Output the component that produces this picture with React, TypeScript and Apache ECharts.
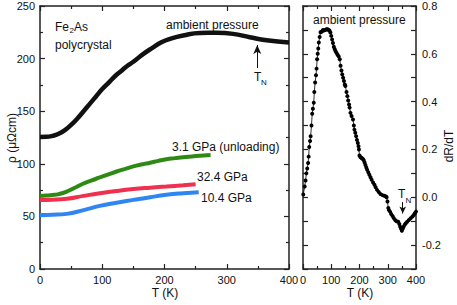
import React, { useEffect, useRef } from "react";
import * as echarts from "echarts";

// Left panel: resistivity vs temperature
const ambientT = [0, 10, 20, 30, 40, 50, 60, 70, 80, 90, 100, 110, 120, 130, 140, 150, 165, 180, 195, 210, 230, 257, 284, 310, 337, 364, 400];
const ambientRho = [125.5, 125.6, 126.5, 128.5, 132, 137, 143, 150, 157, 164, 171, 177, 183, 188, 193, 197, 204, 210, 215.5, 219, 222, 224.4, 224.5, 223.5, 220.3, 217.4, 215.3];

const unloadT = [0, 10, 20, 30, 43, 55, 69, 82, 96, 110, 123, 137, 150, 165, 177, 190, 203, 217, 230, 244, 257, 274];
const unloadRho = [69.5, 69.8, 70.3, 71.2, 73.6, 77, 81, 84, 87, 90, 92.7, 95.2, 97.5, 99.5, 101, 102.8, 104.4, 105.4, 106.3, 107, 107.6, 108.3];

const p324T = [0, 20, 43, 70, 96, 123, 150, 177, 203, 230, 250];
const p324Rho = [65.7, 65.9, 66.7, 69.5, 72, 74.2, 76, 77.3, 78.4, 79.6, 80.6];

const p104T = [0, 20, 43, 70, 96, 123, 150, 177, 203, 230, 255];
const p104Rho = [51.4, 51.6, 52.4, 56, 60, 63, 65.7, 68.3, 70.5, 72, 73];

// Right panel: dR/dT vs temperature
const dT = [1, 6, 9, 12, 15, 18, 20, 22, 25, 27, 30, 32.6, 35, 38, 40, 43, 46, 48, 50, 52, 54, 56, 59, 62, 65, 68, 71, 75, 79, 83, 87, 91, 94, 97, 100, 103, 106, 109, 112, 115, 118, 122, 126, 130, 133, 136, 139, 142, 145, 148, 150, 154, 157, 160, 163, 165, 168, 172, 177, 180, 182, 185, 188, 191, 194, 196.5, 198, 200, 203, 206, 209, 212, 215, 218, 221, 224, 227, 231, 235, 239, 243, 248, 253, 257, 262, 268, 274, 281, 288, 294, 296, 299, 302, 304, 308, 312, 317, 321, 326, 331, 337, 341, 344, 347, 350, 353, 356, 360, 364, 369, 375, 381, 387, 392, 396, 400];
const dV = [0.012, 0.045, 0.07, 0.1, 0.12, 0.143, 0.17, 0.21, 0.235, 0.255, 0.3, 0.349, 0.37, 0.395, 0.44, 0.48, 0.51, 0.538, 0.577, 0.6, 0.622, 0.647, 0.67, 0.69, 0.692, 0.694, 0.7, 0.698, 0.7, 0.703, 0.703, 0.7, 0.697, 0.689, 0.675, 0.66, 0.645, 0.63, 0.62, 0.612, 0.605, 0.597, 0.59, 0.577, 0.55, 0.53, 0.514, 0.5, 0.486, 0.472, 0.465, 0.44, 0.423, 0.405, 0.388, 0.375, 0.353, 0.34, 0.325, 0.3, 0.283, 0.27, 0.255, 0.24, 0.227, 0.213, 0.2, 0.175, 0.168, 0.165, 0.163, 0.16, 0.155, 0.145, 0.135, 0.125, 0.115, 0.105, 0.094, 0.084, 0.073, 0.062, 0.052, 0.042, 0.031, 0.022, 0.014, 0.009, 0.006, 0.003, 0.0, -0.018, -0.045, -0.053, -0.06, -0.07, -0.078, -0.087, -0.095, -0.1, -0.102, -0.112, -0.123, -0.132, -0.14, -0.132, -0.123, -0.115, -0.109, -0.102, -0.095, -0.088, -0.081, -0.074, -0.067, -0.06];

const xTicksLeft = { min: 0, max: 400, interval: 100 };
const yTicksLeft = { min: 0, max: 250, interval: 50 };
const xTicksRight = { min: 0, max: 400, interval: 100 };
const yTicksRight = { min: -0.3, max: 0.8, interval: 0.1 };

const FONT = '"Liberation Sans", Arial, Helvetica, sans-serif';
const AX = "#222";

function zip(a: number[], b: number[]) {
  return a.map((v, i) => [v, b[i]]);
}

function axisBase(labels: boolean, gridIndex: number, position: string, extra: any = {}) {
  return {
    type: "value",
    gridIndex,
    position,
    axisLine: { show: true, onZero: false, lineStyle: { color: AX, width: 1.5 } },
    axisTick: { show: true, inside: true, length: 5, lineStyle: { color: AX, width: 1.2 } },
    minorTick: { show: true, splitNumber: 2, length: 3, lineStyle: { color: AX, width: 1.2 } },
    splitLine: { show: false },
    axisLabel: {
      show: labels,
      color: "#111",
      fontSize: 11,
      fontFamily: FONT,
      margin: 5,
      showMinLabel: true,
      showMaxLabel: true,
    },
    ...extra,
  };
}

function txt(text: string, x: number, y: number, size = 12, align = "left", rotation = 0) {
  return {
    type: "text",
    x,
    y,
    rotation,
    silent: true,
    style: {
      text,
      fontSize: size,
      fontFamily: FONT,
      fill: "#111",
      align,
      textAlign: align,
      verticalAlign: "middle",
      textVerticalAlign: "middle",
    },
  };
}

export default function App() {
  const ref = useRef<HTMLDivElement>(null);
  useEffect(() => {
    if (!ref.current) return;
    const chart = echarts.init(ref.current, undefined, { renderer: "svg" });
    const arrowStyle = { color: "#111", width: 1, type: "solid" };
    chart.setOption({
      animation: false,
      backgroundColor: "#fff",
      grid: [
        { left: 40, top: 6, width: 249, height: 263 },
        { left: 303, top: 6, width: 113, height: 263 },
      ],
      xAxis: [
        axisBase(true, 0, "bottom", { ...xTicksLeft }),
        axisBase(false, 0, "top", { ...xTicksLeft }),
        axisBase(true, 1, "bottom", { ...xTicksRight }),
        axisBase(false, 1, "top", { ...xTicksRight }),
      ],
      yAxis: [
        axisBase(true, 0, "left", { ...yTicksLeft }),
        axisBase(false, 0, "right", { ...yTicksLeft }),
        axisBase(true, 1, "right", {
          ...yTicksRight,
          minorTick: { show: false },
          axisLabel: {
            show: true,
            color: "#111",
            fontSize: 11,
            fontFamily: FONT,
            margin: 6,
            showMinLabel: true,
            showMaxLabel: true,
            formatter: (v: number) => (Math.round(v * 10) % 2 === 0 ? v.toFixed(1) : ""),
          },
        }),
        axisBase(false, 1, "left", { ...yTicksRight, minorTick: { show: false } }),
      ],
      series: [
        {
          type: "line",
          name: "ambient pressure",
          xAxisIndex: 0,
          yAxisIndex: 0,
          data: zip(ambientT, ambientRho),
          smooth: true,
          showSymbol: false,
          symbol: "none",
          lineStyle: { color: "#111", width: 4.5 },
          markLine: {
            silent: true,
            symbol: ["none", "arrow"],
            symbolSize: [6, 9],
            label: { show: false },
            lineStyle: arrowStyle,
            data: [[{ coord: [349, 191] }, { coord: [349, 213] }]],
          },
        },
        {
          type: "line",
          name: "3.1 GPa (unloading)",
          xAxisIndex: 0,
          yAxisIndex: 0,
          data: zip(unloadT, unloadRho),
          smooth: true,
          symbol: "none",
          lineStyle: { color: "#2e8a14", width: 4 },
        },
        {
          type: "line",
          name: "32.4 GPa",
          xAxisIndex: 0,
          yAxisIndex: 0,
          data: zip(p324T, p324Rho),
          smooth: true,
          symbol: "none",
          lineStyle: { color: "#f0304f", width: 4 },
        },
        {
          type: "line",
          name: "10.4 GPa",
          xAxisIndex: 0,
          yAxisIndex: 0,
          data: zip(p104T, p104Rho),
          smooth: true,
          symbol: "none",
          lineStyle: { color: "#2f86f2", width: 4 },
        },
        {
          type: "line",
          name: "dR/dT",
          xAxisIndex: 2,
          yAxisIndex: 2,
          data: zip(dT, dV),
          symbol: "circle",
          symbolSize: 4,
          itemStyle: { color: "#000" },
          lineStyle: { color: "#000", width: 0.8 },
          markLine: {
            silent: true,
            symbol: ["none", "arrow"],
            symbolSize: [5, 7],
            label: { show: false },
            lineStyle: arrowStyle,
            data: [[{ coord: [353, -0.02] }, { coord: [353, -0.068] }]],
          },
        },
      ],
      graphic: [
        txt("Fe", 55, 26.5),
        txt("2", 69.5, 30.5, 8),
        txt("As", 74, 26.5),
        txt("polycrystal", 55, 45),
        txt("ambient pressure", 166, 24.5),
        txt("T", 254, 77),
        txt("N", 261, 82.5, 8),
        txt("3.1 GPa (unloading)", 172, 146.5),
        txt("32.4 GPa", 197, 177),
        txt("10.4 GPa", 201, 198),
        txt("ambient pressure", 313, 19.5),
        txt("T", 398, 194),
        txt("N", 405.5, 200, 8),
        txt("ρ (μΩcm)", 12, 138, 12, "center", Math.PI / 2),
        txt("dR/dT", 449, 146, 12, "center", Math.PI / 2),
        txt("T (K)", 165, 293, 12, "center"),
        txt("T (K)", 360, 293, 12, "center"),
      ],
    });
    return () => chart.dispose();
  }, []);
  return (
    <div
      ref={ref}
      style={{ position: "absolute", left: 0, top: 0, width: 457, height: 305, background: "#fff" }}
    />
  );
}
